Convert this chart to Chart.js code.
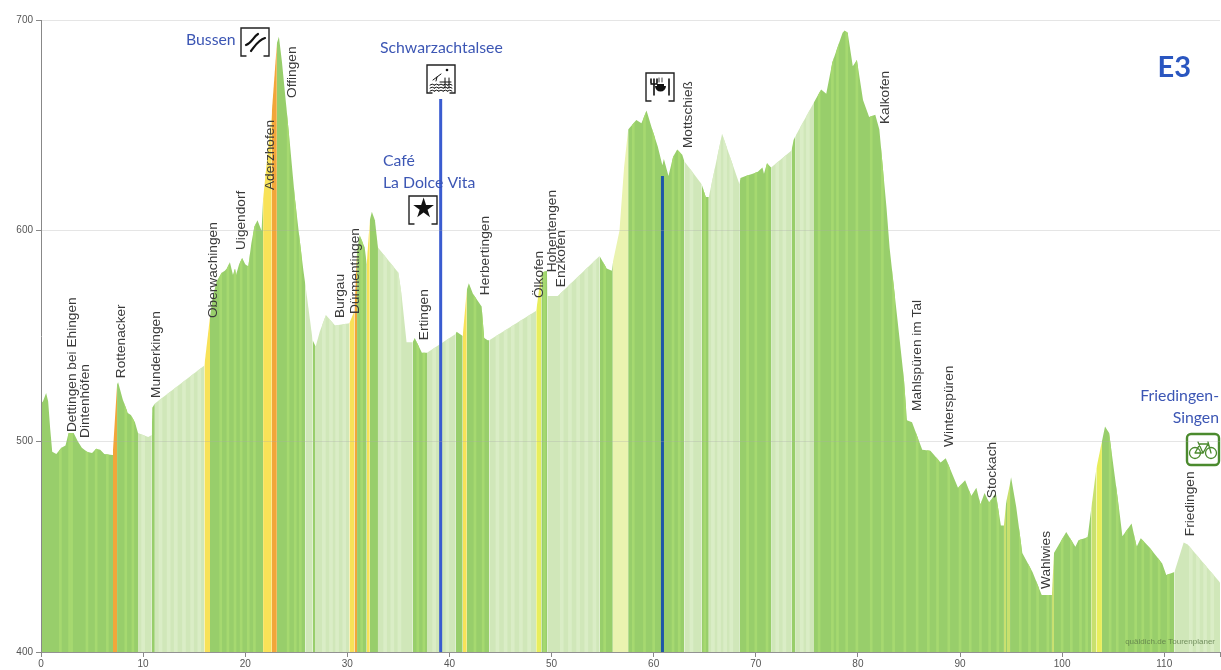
<!DOCTYPE html>
<html>
<head>
<meta charset="utf-8">
<title>E3</title>
<script src="https://cdn.jsdelivr.net/npm/chart.js@4"></script>
<style>
  html, body { margin: 0; padding: 0; background: #fff; }
  #wrap { width: 1221px; height: 670px; }
</style>
</head>
<body>
<div id="wrap"><canvas id="profile" width="1221" height="670"></canvas></div>
<script>
// distance (km) and elevation (m) of the route
const kms = [0,0.2,0.5,0.7,0.9,1.1,1.5,2,2.4,2.7,3.2,3.6,4,4.5,5,5.4,5.8,6.2,7,7.05,7.45,7.55,8,8.5,8.8,9.2,9.5,10.5,10.85,10.9,11.15,16,16.55,16.8,17.2,17.7,18,18.2,18.5,18.7,18.8,19,19.1,19.4,19.7,20,20.3,20.6,20.9,21.2,21.6,21.75,22.6,23.1,23.3,23.6,24,24.4,24.85,25.3,25.7,25.9,26.6,26.9,27.3,27.9,28.8,30.2,30.7,30.95,31.2,31.7,31.9,32.2,32.4,32.7,33,35,35.3,35.8,36.4,36.6,37.3,37.8,40.6,40.7,41.3,41.7,41.9,42.3,43.15,43.4,43.75,43.9,48.5,49,49.55,49.6,50.6,54.7,55.4,55.9,56,56.65,57.1,57.5,58.3,58.8,59.3,59.8,60.4,60.85,61,61.45,61.9,62.3,62.8,63,64.7,65.1,65.4,66.7,68.4,68.5,69,69.7,70.2,70.65,70.8,71.1,71.5,73.5,73.7,73.9,75.7,76.4,76.9,77.5,78.5,78.7,79,79.5,79.9,80.5,81.1,81.7,82.1,82.8,83.1,83.8,84.5,84.8,85.3,86.3,87.1,88.1,88.6,89.8,90.5,91.1,91.6,92,92.4,92.85,93.5,94,94.3,94.5,94.6,94.9,95,95.5,96.1,97.1,98,99,99.2,100.4,101.3,101.6,102.5,102.85,103.35,103.9,104.2,104.6,105.6,105.9,106.8,107.3,107.7,108.5,109.8,110.2,111,111.9,112.3,115.46];
const elevs = [518,519,523,519,506,495,494,497,498,504,504,500,497,495,494.5,496.5,496,494,493.5,496,527,528,520,513.5,512.5,509,504,502,503,516,518,536,559,568,576,580,581,582,585,581,579,582,579,584,587,584,583,594,602,605,600,615,656,689,692,680,660,640,616,597,581,574,548,545,552,560,555,556,562,590,598,592,584,605,609,605,592,580,570,547,547,549,542,542,551,552,550,572,575,570,564,549,548,548,562,580,581,569,569,588,582,581,585,600,630,648,652.5,651,657,649,640,631,634,626,635,638.5,636,633,622,616,616,646,622,625,626,627,628,630,627,632,630,638,643,645,661,667,665,680,694,695,694,678,681,662,654,655,648,611,592,561,530,510,509,496,495.5,490,492,478,481.5,474,478,470,475.5,471,475.5,460,460,470,473,480,483,469,447,438,427,427,447,457,450,453,454.5,468,487,500,507,504,467,455,461,450,454,450,442,436.5,438,452,451,433];

// surface bands: each starts at bandStart and runs to the next one
const bandStart = [0,7.05,7.45,9.5,10.85,11.15,16,16.55,21.75,22.6,23.1,25.9,26.6,26.9,30.2,30.7,30.95,31.9,32.2,33,36.4,37.8,40.6,41.3,41.7,43.9,48.5,49,49.6,54.7,56,57.5,63,64.7,65.4,68.4,71.5,73.5,73.9,75.7,94.3,94.5,94.6,94.9,99,99.2,102.85,103.35,103.9,111];
const bandSurface = ['g','o','g','p','g','p','y','g','y','o','g','p','g','p','y','o','g','y','g','p','g','p','g','y','g','p','l','g','p','g','s','g','p','g','p','g','p','g','p','g','h','g','h','g','h','g','h','l','g','p'];

// lighter vertical strips of the profile
const greenStripeKm = [1.9,2.8,3,4.5,5.4,6.5,8.3,9,17.6,18.3,19,19.6,20.3,20.9,24.2,24.9,25.4,31.4,36.9,37.5,42.5,43.3,49.3,55.2,58,59.1,60,61.9,62.5,65,69.2,70,71.1,76.2,77.5,78,78.9,79.9,81.3,82.4,83.5,84.6,85.8,86.9,87.8,88.9,90,91,92,92.9,93.7,95.9,96.8,97.6,98.6,100,100.9,101.8,102.4,104.7,105.4,106.3,107.2,107.9,108.7,109.5,110.4];
const paleStripeKm = [10,11.7,12.5,13.2,14,14.8,15.5,27.7,28.4,29,29.7,33.7,34.4,35.1,38.5,39.8,44.7,45.5,46.2,47,47.8,51,51.8,52.6,53.4,54.2,63.7,65.8,66.4,67,67.6,72.1,72.8,74.5,75.1,112.6,113.3,114,114.7];

// places along the route
const placeNames = ["Dettingen bei Ehingen","Dintenhöfen","Rottenacker","Munderkingen","Oberwachingen","Uigendorf","Aderzhofen","Offingen","Burgau","Dürmentingen","Ertingen","Herbertingen","Ölkofen","Hohentengen","Enzkofen","Mottschieß","Kalkofen","Mahlspüren im Tal","Winterspüren","Stockach","Wahlwies","Friedingen"];
const placeKm = [3.03,4.3,7.83,11.25,16.83,19.57,22.4,24.56,29.26,30.82,37.57,43.54,48.83,50.1,50.98,63.4,82.68,85.8,88.94,93.15,98.43,112.5];
const placeElev = [504.4,501.6,530,520.6,558.5,590.8,619.3,663,558.5,560.4,548,569.4,568,580.3,573.2,639.2,650.6,514.4,497.3,473,429.9,455];

// the two stops marked with a blue pole
const lakePole = [{x:39.14,y:400},{x:39.14,y:662.5}];
const foodPole = [{x:60.86,y:400},{x:60.86,y:626}];

const surfaceColors = {
  g: 'rgb(152,206,107)',  // green
  p: 'rgb(208,231,185)',  // pale green
  y: 'rgb(248,226,88)',   // yellow
  o: 'rgb(242,166,58)',   // orange
  s: 'rgb(234,243,176)',  // pale yellow
  l: 'rgb(232,238,92)',   // lime
  h: 'rgb(200,224,110)'   // thin lime strip
};

function surfaceAt(km) {
  let s = bandSurface[0];
  for (let i = 0; i < bandStart.length; i++) {
    if (km >= bandStart[i]) s = bandSurface[i];
  }
  return surfaceColors[s];
}

function profilePath(chart) {
  const sx = chart.scales.x, sy = chart.scales.y, ctx = chart.ctx;
  ctx.beginPath();
  ctx.moveTo(sx.getPixelForValue(kms[0]), sy.bottom);
  for (let i = 0; i < kms.length; i++) {
    ctx.lineTo(sx.getPixelForValue(kms[i]), sy.getPixelForValue(elevs[i]));
  }
  ctx.lineTo(sx.getPixelForValue(kms[kms.length - 1]), sy.bottom);
  ctx.closePath();
}

// keep the stripe bars inside the profile
const stripeClip = {
  id: 'stripeClip',
  beforeDatasetDraw(chart, args) {
    if (!chart.data.datasets[args.index].stripe) return;
    chart.ctx.save();
    profilePath(chart);
    chart.ctx.clip();
  },
  afterDatasetDraw(chart, args) {
    if (chart.data.datasets[args.index].stripe) chart.ctx.restore();
  }
};

function bracketBox(ctx, x, y, s) {
  ctx.save();
  ctx.strokeStyle = '#222';
  ctx.lineWidth = 1.4;
  ctx.beginPath();
  ctx.moveTo(x + 5, y + s);
  ctx.lineTo(x, y + s);
  ctx.lineTo(x, y);
  ctx.lineTo(x + s, y);
  ctx.lineTo(x + s, y + s);
  ctx.lineTo(x + s - 5, y + s);
  ctx.stroke();
  ctx.restore();
}

function drawIcons(ctx) {
  ctx.save();
  ctx.strokeStyle = '#111';
  ctx.fillStyle = '#111';
  ctx.lineCap = 'round';

  // pass
  bracketBox(ctx, 241, 28, 28);
  ctx.lineWidth = 2.2;
  ctx.beginPath();
  ctx.moveTo(246, 45);
  ctx.bezierCurveTo(252, 43, 253, 37, 258, 34);
  ctx.moveTo(251, 51);
  ctx.bezierCurveTo(255, 46, 258, 40, 265, 38);
  ctx.stroke();

  // lake
  bracketBox(ctx, 427, 65, 28);
  ctx.lineWidth = 1;
  ctx.beginPath();
  ctx.arc(447, 70, 1.3, 0, Math.PI * 2);
  ctx.fill();
  ctx.beginPath();
  ctx.moveTo(433, 80);
  ctx.lineTo(441, 74);
  ctx.moveTo(437, 77);
  ctx.lineTo(436, 81);
  ctx.moveTo(440, 82);
  ctx.lineTo(451, 82);
  ctx.moveTo(445, 78);
  ctx.lineTo(445, 88);
  ctx.moveTo(449, 78);
  ctx.lineTo(449, 88);
  ctx.stroke();
  for (const wy of [85, 88, 91]) {
    ctx.beginPath();
    for (let k = 0; k < 5; k++) {
      ctx.moveTo(430 + k * 4.4, wy);
      ctx.quadraticCurveTo(432.2 + k * 4.4, wy - 2, 434.4 + k * 4.4, wy);
    }
    ctx.stroke();
  }

  // star
  bracketBox(ctx, 409, 196, 28);
  ctx.font = '27px "DejaVu Sans"';
  ctx.textAlign = 'center';
  ctx.textBaseline = 'middle';
  ctx.fillText('★', 423.5, 210);

  // restaurant
  bracketBox(ctx, 646, 73, 28);
  ctx.lineWidth = 1.6;
  ctx.beginPath();
  ctx.moveTo(651, 79);
  ctx.lineTo(651, 83);
  ctx.moveTo(654, 79);
  ctx.lineTo(654, 83);
  ctx.moveTo(657, 79);
  ctx.lineTo(657, 83);
  ctx.moveTo(651, 84);
  ctx.lineTo(657, 84);
  ctx.moveTo(654, 84);
  ctx.lineTo(654, 95);
  ctx.moveTo(669, 79);
  ctx.lineTo(669, 95);
  ctx.stroke();
  ctx.beginPath();
  ctx.arc(660.5, 86, 5.5, 0, Math.PI);
  ctx.closePath();
  ctx.fill();
  ctx.fillRect(657, 84, 7, 3);
  ctx.lineWidth = 0.8;
  ctx.beginPath();
  ctx.moveTo(659, 78);
  ctx.lineTo(659, 82);
  ctx.moveTo(662, 78);
  ctx.lineTo(662, 82);
  ctx.stroke();

  // bike route
  ctx.strokeStyle = '#4b8a2e';
  ctx.lineWidth = 2.4;
  ctx.beginPath();
  ctx.roundRect(1187, 434, 32, 31, 4);
  ctx.stroke();
  ctx.lineWidth = 1.3;
  ctx.beginPath();
  ctx.arc(1195, 453, 5.5, 0, Math.PI * 2);
  ctx.moveTo(1216.5, 453);
  ctx.arc(1211, 453, 5.5, 0, Math.PI * 2);
  ctx.moveTo(1195, 453);
  ctx.lineTo(1200, 444);
  ctx.lineTo(1208, 444);
  ctx.lineTo(1203, 453);
  ctx.lineTo(1195, 453);
  ctx.moveTo(1208, 442);
  ctx.lineTo(1211, 453);
  ctx.moveTo(1198, 442);
  ctx.lineTo(1203, 453);
  ctx.stroke();
  ctx.restore();
}

// place names, blue notes, icons, credit
const annotations = {
  id: 'annotations',
  afterDatasetsDraw(chart) {
    const ctx = chart.ctx, sx = chart.scales.x, sy = chart.scales.y;
    ctx.save();
    ctx.fillStyle = '#3a3a3a';
    ctx.font = '13.7px "Liberation Sans"';
    ctx.textAlign = 'left';
    ctx.textBaseline = 'middle';
    placeNames.forEach((name, i) => {
      ctx.save();
      ctx.translate(sx.getPixelForValue(placeKm[i]), sy.getPixelForValue(placeElev[i]));
      ctx.rotate(-Math.PI / 2);
      ctx.fillText(name, 0, 0);
      ctx.restore();
    });

    ctx.fillStyle = '#3c56b4';
    ctx.font = '15.8px Lato';
    ctx.fillText('Bussen', 186, 40);
    ctx.fillText('Schwarzachtalsee', 380, 48);
    ctx.fillText('Café', 383, 161);
    ctx.fillText('La Dolce Vita', 383, 183);
    ctx.textAlign = 'right';
    ctx.fillText('Friedingen-', 1219, 396);
    ctx.fillText('Singen', 1219, 418);
    ctx.font = 'bold 29px Lato';
    ctx.fillStyle = '#2a56c0';
    ctx.fillText('E3', 1191, 68);

    ctx.font = '8px "Liberation Sans"';
    ctx.fillStyle = 'rgba(90,120,70,0.8)';
    ctx.fillText('quäldich.de Tourenplaner', 1215, 642);
    ctx.restore();
    drawIcons(ctx);
  }
};

new Chart(document.getElementById('profile'), {
  type: 'line',
  data: {
    datasets: [
      { data: lakePole, borderColor: '#3a5cd0', borderWidth: 3, pointRadius: 0, fill: false },
      { data: foodPole, borderColor: '#1d57a8', borderWidth: 3, pointRadius: 0, fill: false },
      { type: 'bar', stripe: true, grouped: false, barThickness: 2, backgroundColor: 'rgb(166,217,112)',
        data: greenStripeKm.map((k) => ({ x: k, y: 700 })) },
      { type: 'bar', stripe: true, grouped: false, barThickness: 3, backgroundColor: 'rgb(218,237,198)',
        data: paleStripeKm.map((k) => ({ x: k, y: 700 })) },
      {
        data: kms.map((k, i) => ({ x: k, y: elevs[i] })),
        borderWidth: 0,
        borderColor: 'rgba(0,0,0,0)',
        pointRadius: 0,
        tension: 0,
        fill: 'start',
        backgroundColor: surfaceColors.g,
        segment: {
          backgroundColor: (c) => surfaceAt(c.p0.parsed.x)
        }
      }
    ]
  },
  options: {
    responsive: false,
    animation: false,
    devicePixelRatio: 1,
    layout: { padding: { top: 20, left: 0, right: 0, bottom: 0 } },
    plugins: { legend: { display: false }, tooltip: { enabled: false } },
    scales: {
      x: {
        type: 'linear',
        min: 0,
        max: 115.46,
        offset: false,
        afterFit(scale) { scale.height = 18; },
        border: { color: '#888' },
        grid: { drawOnChartArea: false, offset: false, tickLength: 5, color: '#888' },
        ticks: {
          stepSize: 10,
          autoSkip: false,
          maxRotation: 0,
          padding: 1,
          color: '#555',
          font: { family: 'Liberation Sans', size: 10 },
          callback: (v) => (v % 10 === 0 ? String(v) : '')
        }
      },
      y: {
        min: 400,
        max: 700,
        afterFit(scale) { scale.width = 41; },
        // grid sits over the fill, the border has to share its z or it lands at x=0
        border: { color: '#888', z: 1 },
        grid: { color: 'rgba(170,170,170,0.3)', tickColor: '#888', tickLength: 5, z: 1 },
        ticks: {
          stepSize: 100,
          padding: 3,
          color: '#555',
          font: { family: 'Liberation Sans', size: 10 }
        }
      }
    }
  },
  plugins: [stripeClip, annotations]
});
</script>
</body>
</html>
